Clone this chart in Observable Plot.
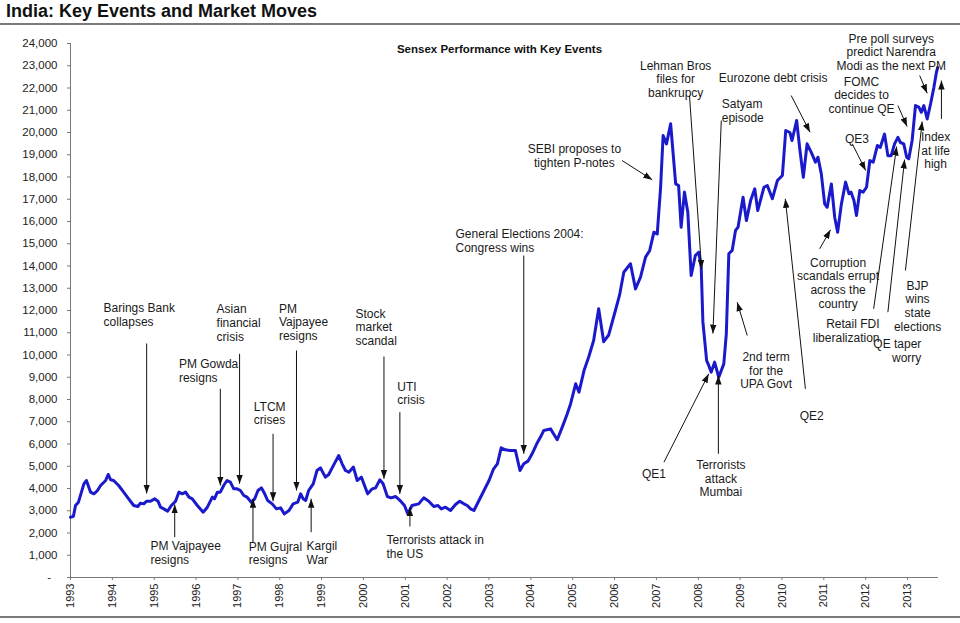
<!DOCTYPE html>
<html><head><meta charset="utf-8">
<script src="https://cdn.jsdelivr.net/npm/d3@7"></script>
<script src="https://cdn.jsdelivr.net/npm/@observablehq/plot@0.6"></script>
<style>
body{margin:0;background:#fff;font-family:Arial,"Liberation Sans",sans-serif;}
#wrap{width:960px;height:623px;position:relative;overflow:hidden;background:#fff}
#title{height:23px;line-height:22px;font-size:18px;font-weight:bold;color:#111;padding-left:6px;border-bottom:2px solid #7a7a7a;white-space:nowrap}
#chart svg{display:block}
#foot{border-top:2px solid #7a7a7a;}
</style></head><body>
<div id="wrap"><div id="title">India: Key Events and Market Moves</div><div id="chart"></div><div id="foot"></div></div>
<script>
const subtitle = "Sensex Performance with Key Events";

const years = [1993.00,1993.07,1993.12,1993.19,1993.32,1993.38,1993.48,1993.56,1993.64,1993.72,1993.84,1993.90,1993.96,
1994.03,1994.15,1994.27,1994.39,1994.51,1994.61,1994.67,1994.75,1994.82,1994.91,
1995.01,1995.09,1995.15,1995.23,1995.32,1995.41,1995.51,1995.59,1995.67,1995.75,1995.83,1995.91,
1996.03,1996.17,1996.27,1996.39,1996.44,1996.51,1996.58,1996.66,1996.74,1996.82,1996.90,1996.98,
1997.06,1997.14,1997.22,1997.32,1997.40,1997.48,1997.56,1997.64,1997.71,1997.82,1997.92,
1998.02,1998.11,1998.22,1998.32,1998.43,1998.50,1998.56,1998.62,1998.69,1998.80,1998.89,1998.97,
1999.09,1999.17,1999.28,1999.41,1999.49,1999.57,1999.65,1999.76,1999.85,1999.95,
2000.10,2000.21,2000.29,2000.39,2000.47,2000.57,2000.66,2000.77,2000.89,2000.98,
2001.06,2001.16,2001.32,2001.44,2001.56,2001.68,2001.78,2001.86,2001.96,
2002.08,2002.20,2002.30,2002.40,2002.48,2002.56,2002.64,2002.76,2002.88,
2003.00,2003.11,2003.20,2003.29,2003.39,2003.51,2003.63,2003.74,2003.83,2003.93,
2004.03,2004.14,2004.23,2004.31,2004.47,2004.63,2004.75,2004.87,2004.95,
2005.07,2005.15,2005.27,2005.38,2005.50,2005.62,2005.74,2005.86,
2006.02,2006.12,2006.22,2006.38,2006.50,2006.62,2006.74,2006.84,2006.94,
2007.02,2007.10,2007.16,2007.24,2007.34,2007.46,2007.53,2007.59,2007.67,2007.75,2007.83,2007.93,
2008.01,2008.07,2008.11,2008.20,2008.25,2008.31,2008.39,2008.49,2008.61,2008.67,2008.73,2008.81,2008.89,2008.95,
2009.07,2009.15,2009.25,2009.35,2009.42,2009.57,2009.65,2009.77,2009.89,
2010.01,2010.09,2010.19,2010.24,2010.35,2010.43,2010.51,2010.60,2010.70,2010.80,2010.86,2010.94,
2011.02,2011.08,2011.18,2011.26,2011.33,2011.42,2011.52,2011.60,2011.65,2011.72,2011.78,2011.86,2011.94,
2012.02,2012.10,2012.18,2012.28,2012.35,2012.45,2012.53,2012.61,2012.69,2012.77,2012.83,2012.91,2012.98,
2013.03,2013.11,2013.19,2013.27,2013.33,2013.39,2013.47,2013.55,2013.63,2013.69,2013.72];

const sensex = [2710,2750,3240,3385,4210,4360,3835,3760,3900,4135,4360,4630,4390,
4360,4135,3835,3536,3236,3190,3340,3310,3430,3430,
3536,3430,3160,3085,2980,3236,3430,3835,3760,3835,3610,3536,
3236,2935,3160,3610,3536,3835,3835,4135,4360,4285,3985,3985,
3910,3685,3610,3385,3536,3910,4030,3760,3460,3310,3085,
3130,2860,3010,3310,3385,3760,3536,3460,3910,4210,4810,4930,
4510,4630,5030,5480,5110,4810,4735,4960,4360,4510,
3760,3985,4030,4390,4210,3640,3580,3640,3430,3236,
2860,3236,3310,3580,3430,3190,3236,3085,3160,
3010,3280,3430,3310,3236,3085,3010,3460,3910,
4360,4885,5110,5830,5740,5710,5710,4810,5110,5230,
5560,6010,6310,6610,6680,6190,6760,7360,7810,
8705,8330,9300,9900,10650,12075,10600,10900,
12000,12700,13720,14100,12970,13500,14400,14700,15520,
15440,17540,19865,19490,20390,17690,17620,15740,17320,16420,13570,14470,
14620,13950,11500,9750,9530,9230,9680,9000,9600,10950,14550,14700,15600,15740,
17090,16040,16940,17470,16490,17540,17620,17020,17840,
18070,20090,20000,19640,20540,19190,17990,19490,19110,18670,18890,18140,
16790,16640,17690,16190,15520,16790,17770,17250,17320,16940,16270,17390,17320,
17540,18740,18670,19420,19330,19930,18960,18960,19490,19780,19550,19490,18890,
18820,19640,21210,21140,20910,21210,20610,21280,22030,22700,22920];

const yTicks = [0,1000,2000,3000,4000,5000,6000,7000,8000,9000,10000,11000,12000,
13000,14000,15000,16000,17000,18000,19000,20000,21000,22000,23000,24000];
const xTicks = [1993,1994,1995,1996,1997,1998,1999,2000,2001,2002,2003,2004,2005,
2006,2007,2008,2009,2010,2011,2012,2013];

// annotation labels (year, index level)
const notesLeft = [
  {text:"Barings Bank\ncollapses", x:1993.79, y:11824},
  {text:"PM Gowda\nresigns", x:1995.59, y:9303},
  {text:"Asian\nfinancial\ncrisis", x:1996.49, y:11460},
  {text:"LTCM\ncrises", x:1997.38, y:7384},
  {text:"PM\nVajpayee\nresigns", x:1997.98, y:11491},
  {text:"Stock\nmarket\nscandal", x:1999.81, y:11262},
  {text:"UTI\ncrisis", x:2000.81, y:8283},
  {text:"PM Vajpayee\nresigns", x:1994.91, y:1115},
  {text:"PM Gujral\nresigns", x:1997.26, y:1101},
  {text:"Kargil\nWar", x:1998.64, y:1115},
  {text:"Terrorists attack in\nthe US", x:2000.55, y:1393},
  {text:"General Elections 2004:\nCongress wins", x:2002.20, y:15145},
  {text:"Satyam\nepisode", x:2008.56, y:20973},
  {text:"Eurozone debt crisis", x:2008.49, y:22456}
];
const notesCenter = [
  {text:"SEBI proposes to\ntighten P-notes", x:2005.04, y:18965},
  {text:"Lehman Bros\nfiles for\nbankrupcy", x:2007.46, y:22411},
  {text:"QE3", x:2011.79, y:19715},
  {text:"FOMC\ndecides to\ncontinue QE", x:2011.90, y:21693},
  {text:"Pre poll surveys\npredict Narendra\nModi as the next PM", x:2012.61, y:23625},
  {text:"Index\nat life\nhigh", x:2013.67, y:19198},
  {text:"Corruption\nscandals errupt\nacross the\ncountry", x:2011.34, y:13242},
  {text:"BJP\nwins\nstate\nelections", x:2013.24, y:12210},
  {text:"2nd term\nfor the\nUPA Govt", x:2009.62, y:9318},
  {text:"QE2", x:2010.71, y:7280},
  {text:"QE1", x:2006.94, y:4660},
  {text:"Terrorists\nattack\nMumbai", x:2008.54, y:4456}
];
const notesRight = [
  {text:"Retail FDI\nliberalization", x:2012.33, y:11100},
  {text:"QE taper\nworry", x:2013.33, y:10188}
];
// arrows: from (x1,y1) to (x2,y2)
const arrows = [
  {x1:1994.82,y1:10516,x2:1994.82,y2:3775},
  {x1:1996.58,y1:8480,x2:1996.58,y2:4134},
  {x1:1997.04,y1:10053,x2:1997.04,y2:4211},
  {x1:1997.84,y1:6458,x2:1997.84,y2:3429},
  {x1:1998.40,y1:10201,x2:1998.40,y2:3910},
  {x1:2000.49,y1:9932,x2:2000.49,y2:4436},
  {x1:2000.87,y1:7429,x2:2000.87,y2:3761},
  {x1:1995.49,y1:1811,x2:1995.49,y2:3281},
  {x1:1997.36,y1:1586,x2:1997.36,y2:3537},
  {x1:1998.75,y1:2036,x2:1998.75,y2:3537},
  {x1:2001.11,y1:2292,x2:2001.11,y2:3159},
  {x1:2003.83,y1:14471,x2:2003.83,y2:5559},
  {x1:2006.18,y1:18740,x2:2006.90,y2:17873},
  {x1:2007.79,y1:21661,x2:2008.08,y2:13873},
  {x1:2008.55,y1:20538,x2:2008.35,y2:10965},
  {x1:2010.22,y1:21661,x2:2010.67,y2:20012},
  {x1:2011.68,y1:19491,x2:2012.00,y2:18291},
  {x1:2012.77,y1:21212,x2:2012.99,y2:20268},
  {x1:2013.29,y1:22560,x2:2013.47,y2:21765},
  {x1:2013.81,y1:20614,x2:2013.81,y2:22335},
  {x1:2010.90,y1:14772,x2:2011.16,y2:15626},
  {x1:2012.19,y1:12075,x2:2012.74,y2:19369},
  {x1:2012.53,y1:11923,x2:2012.93,y2:18785},
  {x1:2012.95,y1:13797,x2:2013.35,y2:20493},
  {x1:2009.17,y1:10875,x2:2008.93,y2:12372},
  {x1:2010.56,y1:8480,x2:2010.08,y2:17019},
  {x1:2007.18,y1:5182,x2:2008.25,y2:9154},
  {x1:2008.48,y1:5559,x2:2008.48,y2:9078}
];

const series = years.map((t, i) => ({t, v: sensex[i]}));
const fmt = d3.format(",");
const noteStyle = {x:"x", y:"y", text:"text", fontSize:12, lineHeight:1.14, fill:"#1a1a1a"};

const plot = Plot.plot({
  width: 960, height: 591,
  marginLeft: 70, marginRight: 22, marginTop: 18, marginBottom: 39,
  x: {domain: [1993, 2013.74], label: null},
  y: {domain: [0, 24000], label: null},
  style: {fontFamily: "Arial, 'Liberation Sans', sans-serif", background: "white", color: "#222", overflow: "visible"},
  marks: [
    Plot.axisY({ticks: yTicks, tickFormat: d => d === 0 ? "-\u00a0\u00a0" : fmt(d), tickSize: 3, tickPadding: 10, fontSize: 11.5, label: null, stroke: "#777"}),
    Plot.axisX({ticks: xTicks, tickFormat: d => String(d), tickRotate: -90, tickSize: 3, tickPadding: 3, fontSize: 11, label: null, stroke: "#777"}),
    Plot.ruleX([1993], {stroke: "#777"}),
    Plot.ruleY([0], {stroke: "#777"}),
    Plot.line(series, {x: "t", y: "v", stroke: "#1a1acc", strokeWidth: 3, strokeLinejoin: "round"}),
    Plot.link(arrows, {x1: "x1", y1: "y1", x2: "x2", y2: "y2", stroke: "#111", strokeWidth: 1, markerEnd: "arrow"}),
    Plot.text(notesLeft, {...noteStyle, textAnchor: "start"}),
    Plot.text(notesCenter, {...noteStyle, textAnchor: "middle"}),
    Plot.text(notesRight, {...noteStyle, textAnchor: "end"}),
    Plot.text([subtitle], {text: d => d, frameAnchor: "top", dx: -5, dy: 1, fontWeight: "bold", fontSize: 11.5, fill: "#111"})
  ]
});

d3.select(plot).selectAll("marker").each(function () {
  const m = d3.select(this);
  const c = m.attr("stroke") || "#111";
  m.attr("viewBox", "-10 -5 10 10").attr("markerWidth", 9).attr("markerHeight", 9)
   .attr("fill", c).attr("stroke", "none");
  m.selectAll("*").remove();
  m.append("path").attr("d", "M-10,-3.6L0,0L-10,3.6Z");
});

document.getElementById("chart").appendChild(plot);
</script></body></html>
